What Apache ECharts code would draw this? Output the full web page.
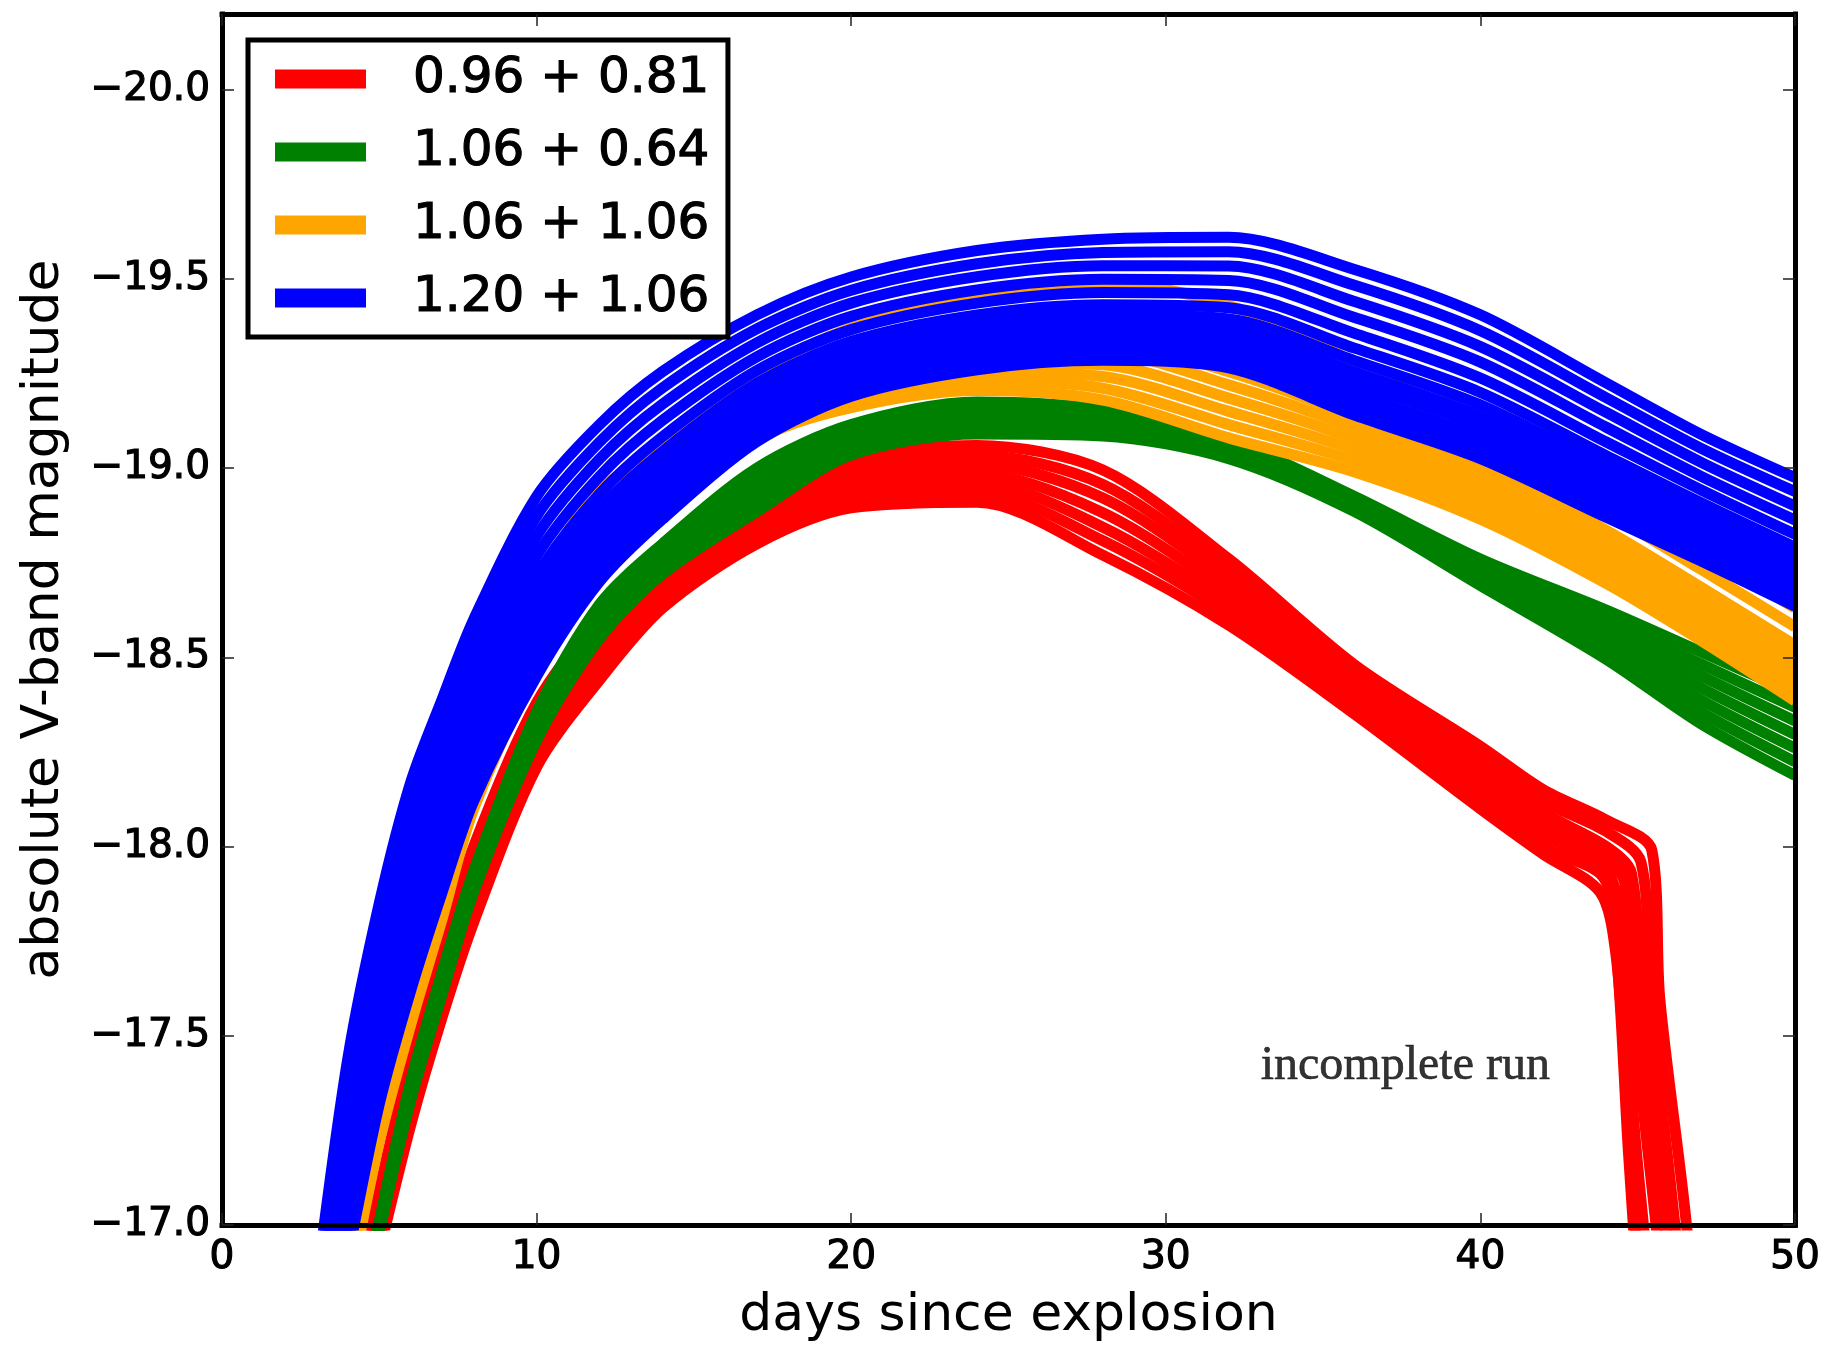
<!DOCTYPE html>
<html>
<head>
<meta charset="utf-8">
<script src="https://cdn.jsdelivr.net/npm/echarts@6/dist/echarts.min.js"></script>
<style>
  html, body { margin: 0; padding: 0; background: #fff; }
  #chart { width: 1829px; height: 1347px; }
</style>
</head>
<body>
<div id="chart"></div>
<script>
// ---------------- data ----------------
const groupNames = ['0.96 + 0.81', '1.06 + 0.64', '1.06 + 1.06', '1.20 + 1.06'];
const groupColors = ['#ff0000', '#008000', '#ffa500', '#0000ff'];

const xTicks = [0, 10, 20, 30, 40, 50];
const yTicks = [-20.0, -19.5, -19.0, -18.5, -18.0, -17.5, -17.0];

// days used by the blue, orange and green model curves
const days = [3, 4, 5, 6, 7, 8, 10, 12, 14, 17, 20, 24, 28, 32, 36, 40, 44, 47, 50];

// 1.20 + 1.06 (blue)
const blue1  = [-16.84,-17.44,-17.85,-18.17,-18.39,-18.60,-18.925,-19.115,-19.255,-19.405,-19.505,-19.575,-19.605,-19.61,-19.525,-19.405,-19.225,-19.09,-18.975];
const blue2  = [-16.808,-17.383,-17.792,-18.109,-18.334,-18.547,-18.873,-19.069,-19.212,-19.368,-19.47,-19.54,-19.57,-19.572,-19.483,-19.363,-19.186,-19.053,-18.938];
const blue3  = [-16.776,-17.326,-17.733,-18.049,-18.278,-18.494,-18.82,-19.024,-19.169,-19.331,-19.436,-19.506,-19.535,-19.534,-19.44,-19.321,-19.147,-19.016,-18.90];
const blue4  = [-16.744,-17.268,-17.675,-17.988,-18.222,-18.442,-18.768,-18.978,-19.126,-19.294,-19.401,-19.471,-19.499,-19.496,-19.398,-19.28,-19.108,-18.979,-18.863];
const blue5  = [-16.712,-17.211,-17.617,-17.928,-18.166,-18.389,-18.716,-18.932,-19.083,-19.258,-19.366,-19.436,-19.464,-19.458,-19.356,-19.238,-19.069,-18.943,-18.825];
const blue6  = [-16.683,-17.159,-17.564,-17.873,-18.115,-18.341,-18.668,-18.891,-19.044,-19.224,-19.335,-19.405,-19.432,-19.424,-19.317,-19.20,-19.033,-18.909,-18.791];
const blue7  = [-16.659,-17.115,-17.519,-17.826,-18.071,-18.30,-18.628,-18.856,-19.011,-19.196,-19.308,-19.378,-19.405,-19.394,-19.284,-19.167,-19.003,-18.881,-18.762];
const blue8  = [-16.636,-17.073,-17.476,-17.782,-18.03,-18.262,-18.59,-18.822,-18.98,-19.169,-19.283,-19.353,-19.379,-19.367,-19.254,-19.137,-18.975,-18.854,-18.735];
const blue9  = [-16.614,-17.034,-17.437,-17.741,-17.992,-18.226,-18.554,-18.791,-18.951,-19.144,-19.259,-19.329,-19.355,-19.341,-19.225,-19.109,-18.948,-18.829,-18.71];
const blue10 = [-16.592,-16.995,-17.397,-17.70,-17.954,-18.19,-18.519,-18.76,-18.922,-19.119,-19.236,-19.306,-19.331,-19.315,-19.196,-19.08,-18.921,-18.804,-18.684];
const blue11 = [-16.57,-16.956,-17.357,-17.658,-17.916,-18.154,-18.483,-18.729,-18.892,-19.093,-19.212,-19.282,-19.307,-19.289,-19.167,-19.052,-18.895,-18.778,-18.659];
const blue12 = [-16.55,-16.92,-17.32,-17.62,-17.88,-18.12,-18.45,-18.70,-18.865,-19.07,-19.19,-19.26,-19.285,-19.265,-19.14,-19.025,-18.87,-18.755,-18.635];

// 1.06 + 1.06 (orange)
const orange1 = [-16.70,-17.17,-17.55,-17.87,-18.13,-18.35,-18.70,-18.94,-19.06,-19.25,-19.37,-19.45,-19.49,-19.43,-19.28,-19.11,-18.93,-18.78,-18.63];
const orange2 = [-16.65,-17.10,-17.484,-17.802,-18.066,-18.30,-18.652,-18.896,-19.023,-19.215,-19.328,-19.401,-19.428,-19.36,-19.222,-19.061,-18.883,-18.733,-18.581];
const orange3 = [-16.60,-17.03,-17.418,-17.734,-18.002,-18.25,-18.604,-18.852,-18.986,-19.18,-19.286,-19.352,-19.366,-19.29,-19.164,-19.012,-18.836,-18.686,-18.532];
const orange4 = [-16.575,-16.995,-17.385,-17.70,-17.97,-18.225,-18.58,-18.83,-18.968,-19.163,-19.265,-19.328,-19.335,-19.255,-19.135,-18.988,-18.813,-18.663,-18.508];
const orange5 = [-16.55,-16.96,-17.352,-17.666,-17.938,-18.20,-18.556,-18.808,-18.949,-19.145,-19.244,-19.303,-19.304,-19.22,-19.106,-18.963,-18.789,-18.639,-18.483];
const orange6 = [-16.525,-16.925,-17.319,-17.632,-17.906,-18.175,-18.532,-18.786,-18.931,-19.128,-19.223,-19.279,-19.273,-19.185,-19.077,-18.939,-18.766,-18.616,-18.459];
const orange7 = [-16.50,-16.89,-17.286,-17.598,-17.874,-18.15,-18.508,-18.764,-18.912,-19.11,-19.202,-19.254,-19.242,-19.15,-19.048,-18.914,-18.742,-18.592,-18.434];
const orange8 = [-16.475,-16.855,-17.253,-17.564,-17.842,-18.125,-18.484,-18.742,-18.894,-19.093,-19.181,-19.23,-19.211,-19.115,-19.019,-18.89,-18.719,-18.569,-18.41];
const orange9 = [-16.45,-16.82,-17.22,-17.53,-17.81,-18.10,-18.46,-18.72,-18.875,-19.075,-19.16,-19.205,-19.18,-19.08,-18.99,-18.865,-18.695,-18.545,-18.385];

// 1.06 + 0.64 (green)
const green1 = [-16.30,-16.61,-17.01,-17.38,-17.67,-17.935,-18.355,-18.64,-18.80,-19.0,-19.115,-19.175,-19.155,-19.075,-18.925,-18.76,-18.625,-18.515,-18.405];
const green2 = [-16.27,-16.605,-17.005,-17.372,-17.66,-17.926,-18.343,-18.625,-18.787,-18.981,-19.102,-19.161,-19.143,-19.067,-18.918,-18.748,-18.603,-18.483,-18.368];
const green3 = [-16.23,-16.60,-17.00,-17.363,-17.65,-17.917,-18.33,-18.61,-18.773,-18.962,-19.088,-19.147,-19.132,-19.058,-18.912,-18.737,-18.582,-18.452,-18.332];
const green4 = [-16.20,-16.595,-16.995,-17.355,-17.64,-17.908,-18.318,-18.595,-18.76,-18.943,-19.075,-19.133,-19.12,-19.05,-18.905,-18.725,-18.56,-18.42,-18.296];
const green5 = [-16.17,-16.59,-16.99,-17.347,-17.63,-17.898,-18.305,-18.58,-18.747,-18.923,-19.062,-19.118,-19.108,-19.042,-18.898,-18.713,-18.538,-18.388,-18.26];
const green6 = [-16.13,-16.585,-16.985,-17.338,-17.62,-17.889,-18.293,-18.565,-18.733,-18.904,-19.048,-19.104,-19.097,-19.033,-18.892,-18.702,-18.517,-18.356,-18.224];
const green7 = [-16.10,-16.58,-16.98,-17.33,-17.61,-17.88,-18.28,-18.55,-18.72,-18.885,-19.035,-19.09,-19.085,-19.025,-18.885,-18.69,-18.495,-18.325,-18.188];

// 0.96 + 0.81 (red): common part, then each run's own ending (incomplete runs)
const redDays = [3, 4, 5, 6, 7, 8, 10, 12, 14, 17, 20, 24, 28, 32, 36, 40];
const red1 = [-16.27,-16.68,-17.09,-17.44,-17.73,-18.00,-18.38,-18.60,-18.73,-18.94,-19.03,-19.06,-18.995,-18.76,-18.48,-18.265];
const red2 = [-16.25,-16.665,-17.063,-17.41,-17.699,-17.966,-18.351,-18.573,-18.713,-18.916,-19.007,-19.034,-18.957,-18.73,-18.458,-18.237];
const red3 = [-16.23,-16.65,-17.037,-17.382,-17.671,-17.934,-18.324,-18.547,-18.697,-18.894,-18.985,-19.01,-18.921,-18.702,-18.437,-18.211];
const red4 = [-16.21,-16.635,-17.01,-17.352,-17.64,-17.90,-18.295,-18.52,-18.68,-18.87,-18.962,-18.985,-18.882,-18.672,-18.415,-18.182];
const red5 = [-16.19,-16.62,-16.983,-17.323,-17.609,-17.866,-18.266,-18.493,-18.663,-18.846,-18.94,-18.96,-18.844,-18.643,-18.393,-18.154];
const red6 = [-16.17,-16.605,-16.957,-17.295,-17.581,-17.834,-18.239,-18.467,-18.647,-18.824,-18.918,-18.935,-18.808,-18.615,-18.372,-18.128];
const red7 = [-16.15,-16.59,-16.93,-17.265,-17.55,-17.80,-18.21,-18.44,-18.63,-18.80,-18.895,-18.91,-18.77,-18.585,-18.35,-18.10];
const redTail1 = [[42,-18.15],[44,-18.07],[45.45,-17.99],[45.7,-17.6],[46.55,-17.0],[46.9,-16.6]];
const redTail2 = [[42,-18.12],[44,-18.04],[45.1,-17.96],[45.4,-17.6],[46.3,-16.9],[46.6,-16.5]];
const redTail3 = [[42,-18.09],[44,-18.0],[44.8,-17.93],[45.2,-17.5],[46.0,-16.9],[46.3,-16.5]];
const redTail4 = [[42,-18.06],[44,-17.97],[44.6,-17.9],[45.0,-17.45],[45.7,-16.9],[46.0,-16.5]];
const redTail5 = [[42,-18.03],[43.9,-17.95],[44.5,-17.8],[44.85,-17.3],[45.4,-16.8],[45.6,-16.5]];
const redTail6 = [[42,-18.0],[43.9,-17.92],[44.3,-17.75],[44.7,-17.2],[45.1,-16.7],[45.3,-16.4]];
const redTail7 = [[42,-17.98],[43.8,-17.88],[44.3,-17.72],[44.65,-17.35],[44.95,-16.95],[45.1,-16.6]];

const noteText = 'incomplete run';
const noteAnchor = [33.0, -17.42];

// ---------------- build ----------------
const LW = 11;
function curve(name, color, xs, ys, tail) {
  const data = xs.map((d, i) => [d, ys[i]]).concat(tail || []);
  return {
    type: 'line', name: name, data: data,
    xAxisIndex: 0, yAxisIndex: 0,
    symbol: 'none', smooth: 0.3, clip: true, silent: true,
    color: color,
    lineStyle: { color: color, width: LW, cap: 'butt', join: 'round' },
    itemStyle: { color: color },
    emphasis: { disabled: true },
    animation: false
  };
}

const series = [];
[[red1, redTail1], [red2, redTail2], [red3, redTail3], [red4, redTail4],
 [red5, redTail5], [red6, redTail6], [red7, redTail7]].forEach(p =>
  series.push(curve(groupNames[0], groupColors[0], redDays, p[0], p[1])));
[green1, green2, green3, green4, green5, green6, green7].forEach(g =>
  series.push(curve(groupNames[1], groupColors[1], days, g)));
[orange1, orange2, orange3, orange4, orange5, orange6, orange7, orange8, orange9].forEach(o =>
  series.push(curve(groupNames[2], groupColors[2], days, o)));
[blue1, blue2, blue3, blue4, blue5, blue6, blue7, blue8, blue9, blue10, blue11, blue12].forEach(b =>
  series.push(curve(groupNames[3], groupColors[3], days, b)));

series.push({
  type: 'scatter', name: 'note', data: [noteAnchor],
  symbolSize: 1, itemStyle: { color: 'rgba(0,0,0,0)' }, silent: true,
  label: {
    show: true, position: 'right', distance: 0, formatter: noteText,
    fontFamily: "'Liberation Serif', 'DejaVu Serif', serif", fontSize: 48, color: '#000',
    textBorderColor: '#000', textBorderWidth: 0.6
  },
  z: 5
});

const fmt = v => (v < 0 ? '\u2212' : '') + Math.abs(v).toFixed(1);
const FONT = "'DejaVu Sans', sans-serif";
const frameLine = { show: true, onZero: false, lineStyle: { color: '#000', width: 5, cap: 'square' } };
const tickStyle = { show: true, inside: true, length: 12, lineStyle: { color: '#222', width: 1.5 } };
const tickText = { fontSize: 39, color: '#000', fontFamily: FONT, textBorderColor: '#000', textBorderWidth: 1.2 };

const option = {
  animation: false,
  backgroundColor: '#fff',
  grid: { left: 222, right: 34, top: 14, bottom: 117, containLabel: false },
  legend: {
    data: groupNames, orient: 'vertical', left: 248, top: 40,
    icon: 'rect', itemWidth: 91, itemHeight: 19, itemGap: 13,
    padding: [9, 18, 9, 27],
    backgroundColor: '#fff', borderColor: '#000', borderWidth: 5, borderRadius: 0,
    selectedMode: false,
    textStyle: { fontSize: 50, color: '#000', fontFamily: FONT, lineHeight: 60, padding: [0, 0, 0, 42],
                 textBorderColor: '#000', textBorderWidth: 1.2 },
    z: 20
  },
  xAxis: [
    {
      type: 'value', position: 'bottom', min: 0, max: 50, interval: 10, z: 10,
      axisLine: frameLine,
      axisTick: Object.assign({ customValues: xTicks }, tickStyle),
      axisLabel: Object.assign({ customValues: xTicks, margin: 13 }, tickText),
      splitLine: { show: false },
      name: 'days since explosion', nameLocation: 'middle', nameGap: 65,
      nameTextStyle: { fontSize: 52, color: '#000', fontFamily: FONT }
    },
    {
      type: 'value', position: 'top', min: 0, max: 50, interval: 10, z: 10,
      axisLine: frameLine,
      axisTick: Object.assign({ customValues: xTicks }, tickStyle),
      axisLabel: { show: false },
      splitLine: { show: false }
    }
  ],
  yAxis: [
    {
      type: 'value', position: 'left', inverse: true, min: -20.2, max: -17.0, z: 10,
      axisLine: frameLine,
      axisTick: Object.assign({ customValues: yTicks }, tickStyle),
      axisLabel: Object.assign({ customValues: yTicks, formatter: fmt, margin: 12 }, tickText),
      splitLine: { show: false },
      name: 'absolute V-band magnitude', nameLocation: 'middle', nameGap: 152,
      nameTextStyle: { fontSize: 52, color: '#000', fontFamily: FONT }
    },
    {
      type: 'value', position: 'right', inverse: true, min: -20.2, max: -17.0, z: 10,
      axisLine: frameLine,
      axisTick: Object.assign({ customValues: yTicks }, tickStyle),
      axisLabel: { show: false },
      splitLine: { show: false }
    }
  ],
  series: series
};

const chart = echarts.init(document.getElementById('chart'), null, { renderer: 'canvas' });
chart.setOption(option);
</script>
</body>
</html>
